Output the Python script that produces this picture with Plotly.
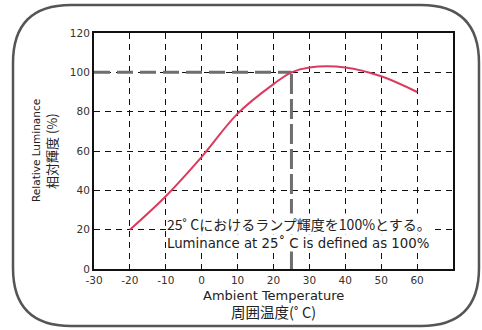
import plotly.graph_objects as go

# ---- data ----
temps = [-20, -10, 0, 10, 20, 25, 30, 40, 50, 60]
lum = [20, 37, 57, 79, 94, 100, 102.5, 102.5, 98, 90]
x_ticks = [-30, -20, -10, 0, 10, 20, 30, 40, 50, 60]
x_ticktext = ["-30", "-20", "-10", "0", "10", "20", "30", "40", "50", "60"]
y_ticks = [0, 20, 40, 60, 80, 100, 120]
ref_temp = 25
ref_lum = 100

W, H = 482, 330
L, R, T, B = 94, 29, 33, 61
pw, ph = W - L - R, H - T - B


def P(px, py):
    return f"{(px - L) / pw:.4f},{(H - B - py) / ph:.4f}"


def rrect(x0, y0, x1, y1, r):
    return (f"M {P(x0 + r, y0)} L {P(x1 - r, y0)} Q {P(x1, y0)} {P(x1, y0 + r)} "
            f"L {P(x1, y1 - r)} Q {P(x1, y1)} {P(x1 - r, y1)} "
            f"L {P(x0 + r, y1)} Q {P(x0, y1)} {P(x0, y1 - r)} "
            f"L {P(x0, y0 + r)} Q {P(x0, y0)} {P(x0 + r, y0)} Z")


fig = go.Figure()
fig.add_trace(go.Scatter(x=temps, y=lum, mode="lines", line=dict(color="#db3a5e", width=2, shape="spline"),
                         hoverinfo="skip", showlegend=False))

shapes = [
    dict(type="line", xref="x", yref="y", x0=x_ticks[0], x1=ref_temp, y0=ref_lum, y1=ref_lum,
         line=dict(color="#6e6e6e", width=3, dash="16px,7px"), layer="between"),
    dict(type="line", xref="x", yref="y", x0=ref_temp, x1=ref_temp, y0=0, y1=ref_lum,
         line=dict(color="#6e6e6e", width=3, dash="20px,5px"), layer="between"),
    dict(type="path", xref="paper", yref="paper", path=rrect(13, 5, 479, 326, 58),
         line=dict(color="#555555", width=2.5), layer="above"),
]

font_lat = "DejaVu Sans, sans-serif"
font_cjk = "Noto Sans CJK JP, sans-serif"

annotations = [
    dict(xref="x", yref="paper", x=-10, y=(H - B - 224) / ph, xanchor="left", yanchor="middle",
         text="25˚ Cにおけるランプ輝度を100%とする。", showarrow=False, bgcolor="white",
         font=dict(family=font_cjk, size=14, color="#222"), borderpad=0),
    dict(xref="x", yref="paper", x=-10, y=(H - B - 243) / ph, xanchor="left", yanchor="middle",
         text="Luminance at 25˚ C is defined as 100%", showarrow=False, bgcolor="white",
         font=dict(family=font_lat, size=13.3, color="#222"), borderpad=0),
    dict(xref="paper", yref="paper", x=0.5, y=(H - B - 295) / ph, xanchor="center", yanchor="middle",
         text="Ambient Temperature", showarrow=False,
         font=dict(family=font_lat, size=13, color="#222")),
    dict(xref="paper", yref="paper", x=0.5, y=(H - B - 311) / ph, xanchor="center", yanchor="middle",
         text="周囲温度(˚ C)", showarrow=False,
         font=dict(family=font_cjk, size=14.5, color="#222")),
    dict(xref="paper", yref="paper", x=(36 - L) / pw, y=0.5, xanchor="center", yanchor="middle",
         text="Relative Luminance", showarrow=False, textangle=-90,
         font=dict(family=font_lat, size=10.5, color="#222")),
    dict(xref="paper", yref="paper", x=(51 - L) / pw, y=0.5, xanchor="center", yanchor="middle",
         text="相対輝度 (%)", showarrow=False, textangle=-90,
         font=dict(family=font_cjk, size=13, color="#222")),
]

fig.update_layout(
    width=W, height=H,
    margin=dict(l=L, r=R, t=T, b=B, autoexpand=False),
    paper_bgcolor="white", plot_bgcolor="white",
    showlegend=False,
    shapes=shapes,
    annotations=annotations,
    xaxis=dict(range=[-30, 70], tickvals=x_ticks, ticktext=x_ticktext, showgrid=True,
               gridcolor="#111", gridwidth=1.3, griddash="6px,5px", zeroline=False,
               showline=True, linecolor="#111", linewidth=2, mirror=True, ticks="",
               tickfont=dict(family=font_lat, size=10.5, color="#333")),
    yaxis=dict(range=[0, 120], tickvals=y_ticks, showgrid=True,
               gridcolor="#111", gridwidth=1.3, griddash="6px,5px", zeroline=False,
               showline=True, linecolor="#111", linewidth=2, mirror=True, ticks="",
               tickfont=dict(family=font_lat, size=10.5, color="#333")),
)

fig.write_html("out.html", config={"displayModeBar": False},
               post_script="document.body.style.margin='0';")
